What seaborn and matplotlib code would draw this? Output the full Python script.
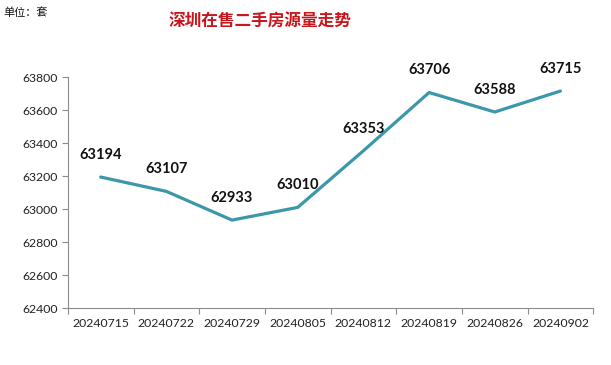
import matplotlib
matplotlib.use("Agg")
import matplotlib.pyplot as plt
from matplotlib.ticker import FixedLocator
import seaborn as sns
import pandas as pd

dates = ["20240715", "20240722", "20240729", "20240805",
         "20240812", "20240819", "20240826", "20240902"]
listings = [63194, 63107, 62933, 63010, 63353, 63706, 63588, 63715]
y_ticks = [62400, 62600, 62800, 63000, 63200, 63400, 63600, 63800]

sns.set_style("white")
plt.rcParams['font.family'] = ['Noto Sans CJK SC', 'DejaVu Sans']

df = pd.DataFrame({"date": dates, "count": listings})

fig = plt.figure(figsize=(6.11, 3.65), dpi=100)
ax = fig.add_axes([0.111, 0.156, 0.860, 0.633])

sns.lineplot(data=df, x="date", y="count", ax=ax, color="#3C98A9",
             linewidth=2.3, sort=False)

ax.set_ylim(y_ticks[0], y_ticks[-1])
ax.set_yticks(y_ticks)
ax.set_yticklabels([str(t) for t in y_ticks], family=["Lato"])
ax.set_xlim(-0.5, len(dates) - 0.5)
ax.set_xticks(range(len(dates)))
ax.set_xticklabels(dates, family=["Lato"])
ax.xaxis.set_minor_locator(FixedLocator([i - 0.5 for i in range(len(dates) + 1)]))
ax.tick_params(axis="x", which="major", bottom=True, length=0, pad=7, labelsize=8.8, labelcolor="#222222")
ax.tick_params(axis="x", which="minor", bottom=True, length=4, direction="out", color="#8c8c8c", width=0.8)
ax.tick_params(axis="y", left=True, length=4, direction="out", color="#8c8c8c", width=0.8,
               labelsize=8.8, labelcolor="#222222", pad=3)
ax.set_xlabel("")
ax.set_ylabel("")

for s in ["top", "right"]:
    ax.spines[s].set_visible(False)
for s in ["left", "bottom"]:
    ax.spines[s].set_color("#8c8c8c")
    ax.spines[s].set_linewidth(0.8)

for i, v in enumerate(listings):
    ax.annotate(f"{v}", (i, v), xytext=(0, 11), textcoords="offset points",
                ha="center", va="bottom", fontsize=10.5, fontweight="bold",
                color="#111111", family=["Lato"])

fig.text(0.426, 0.94, "深圳在售二手房源量走势", ha="center", va="center",
         fontsize=12, fontweight="bold", color="#C8161D")
fig.text(0.005, 0.965, "单位：套", ha="left", va="center", fontsize=8, color="#111111")

fig.savefig("out.png", dpi=100)
